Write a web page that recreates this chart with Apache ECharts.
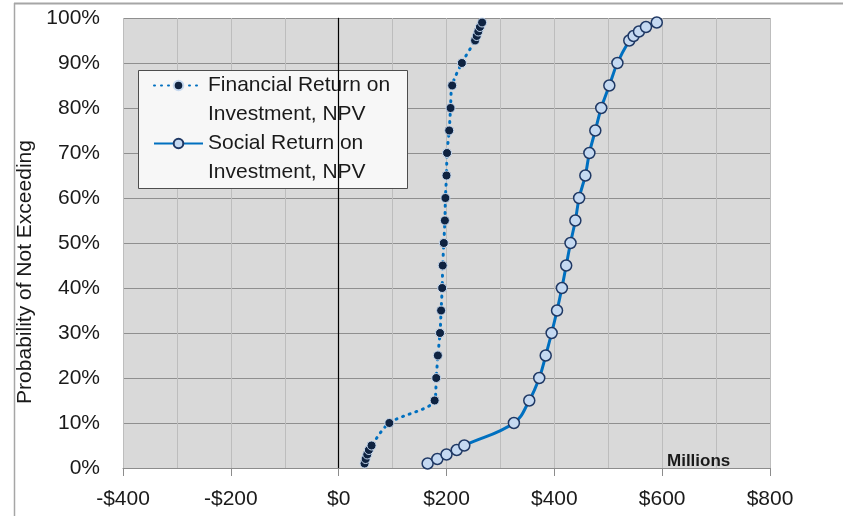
<!DOCTYPE html>
<html>
<head>
<meta charset="utf-8">
<script src="https://cdn.jsdelivr.net/npm/echarts@6/dist/echarts.min.js"></script>
<style>
html,body{margin:0;padding:0;background:#fff;}
#chart{width:843px;height:516px;}
</style>
</head>
<body>
<div id="chart"></div>
<script>
// Probability of not exceeding (%)
var probs = [1, 2, 3, 4, 5, 10, 15, 20, 25, 30, 35, 40, 45, 50, 55, 60, 65, 70, 75, 80, 85, 90, 95, 96, 97, 98, 99];
// NPV values, $ millions
var financialNPV = [48, 50, 53, 56, 61, 94, 178, 181, 184, 188, 190, 192, 193, 195, 197, 198, 200, 201, 205, 207.5, 210.5, 228.5, 253, 256, 259, 262, 266];
var socialNPV = [165, 183, 200, 219, 233, 325, 353.5, 372, 384, 395, 405, 414, 422, 430, 439, 446, 457.5, 465, 476, 487, 502, 517, 539, 547, 557, 570, 590];
var seriesNames = ['Financial Return on Investment, NPV', 'Social Return on Investment, NPV'];
var legendLabels = ['Financial Return on\nInvestment, NPV', 'Social Return on\nInvestment, NPV'];
var xTicks = [-400, -200, 0, 200, 400, 600, 800];

var FONT = '"Liberation Sans", Arial, sans-serif';

function pairs(xs) { return xs.map(function (x, i) { return [x, probs[i]]; }); }

var chart = echarts.init(document.getElementById('chart'), null, {renderer: 'canvas'});
var LH = 29;
chart.setOption({
  animation: false,
  backgroundColor: '#ffffff',
  grid: {left: 123, top: 18, right: 73, bottom: 48, show: true, backgroundColor: '#d9d9d9', borderWidth: 0,
    containLabel: false, outerBoundsMode: 'none'},
  xAxis: {
    type: 'value', min: xTicks[0], max: xTicks[xTicks.length - 1], interval: 200,
    axisLine: {show: true, onZero: false, lineStyle: {color: '#8c8c8c', width: 1}},
    axisTick: {show: true, length: 8, lineStyle: {color: '#8c8c8c'}},
    axisLabel: {margin: 21, fontFamily: FONT, fontSize: 21, color: '#1a1a1a',
      formatter: function (v) { return v < 0 ? '-$' + Math.abs(v) : '$' + v; }},
    splitLine: {show: true, lineStyle: {color: '#bdbdbd', width: 1}},
    minorTick: {show: false, splitNumber: 2},
    minorSplitLine: {show: true, lineStyle: {color: '#bdbdbd', width: 1}}
  },
  yAxis: {
    type: 'value', min: 0, max: 100, interval: 10,
    name: 'Probability of Not Exceeding', nameLocation: 'middle', nameGap: 79, nameRotate: 90,
    nameTextStyle: {fontFamily: FONT, fontSize: 21, color: '#1a1a1a', padding: [0, 58, 0, 0]},
    axisLine: {show: true, lineStyle: {color: '#8c8c8c', width: 1}},
    axisTick: {show: true, length: 8, lineStyle: {color: '#8c8c8c'}},
    axisLabel: {margin: 23, fontFamily: FONT, fontSize: 21, color: '#1a1a1a', formatter: '{value}%'},
    splitLine: {show: true, lineStyle: {color: '#8f8f8f', width: 1}}
  },
  legend: {
    orient: 'vertical', left: 153, top: 42, padding: 0, itemGap: -LH,
    itemWidth: 49, itemHeight: 12,
    data: seriesNames,
    formatter: function (name) { return '\n' + legendLabels[seriesNames.indexOf(name)]; },
    textStyle: {fontFamily: FONT, fontSize: 21, color: '#1a1a1a', lineHeight: LH}
  },
  graphic: [
    {type: 'rect', z: 3, shape: {x: 138.5, y: 70.5, width: 269, height: 118}, style: {fill: '#f7f7f7', stroke: '#4d4d4d', lineWidth: 1}},
    {type: 'line', z: 10, shape: {x1: 14, y1: 3.5, x2: 843, y2: 3.5}, style: {stroke: '#a6a6a6', lineWidth: 2}},
    {type: 'line', z: 10, shape: {x1: 14.5, y1: 3, x2: 14.5, y2: 516}, style: {stroke: '#a6a6a6', lineWidth: 1.5}},
    {type: 'text', z: 10, left: 667, top: 453, style: {text: 'Millions', font: 'bold 17px "Liberation Sans", Arial, sans-serif', fill: '#1a1a1a'}}
  ],
  series: [
    {
      name: seriesNames[0], type: 'line', data: pairs(financialNPV), smooth: 0.3,
      symbol: 'circle', symbolSize: 9, z: 3,
      lineStyle: {color: '#0070c0', width: 3, type: [1, 6], cap: 'round'},
      itemStyle: {color: '#0f2341', borderColor: '#c6d9f0', borderWidth: 1},
      markLine: {silent: true, symbol: 'none', label: {show: false},
        lineStyle: {color: '#000000', width: 1.2, type: 'solid'}, data: [{xAxis: 0}]}
    },
    {
      name: seriesNames[1], type: 'line', data: pairs(socialNPV), smooth: 0.4,
      symbol: 'circle', symbolSize: 11, z: 3,
      lineStyle: {color: '#0070c0', width: 3},
      itemStyle: {color: '#c5d9f1', borderColor: '#1f3864', borderWidth: 1.5}
    }
  ]
});
</script>
</body>
</html>
